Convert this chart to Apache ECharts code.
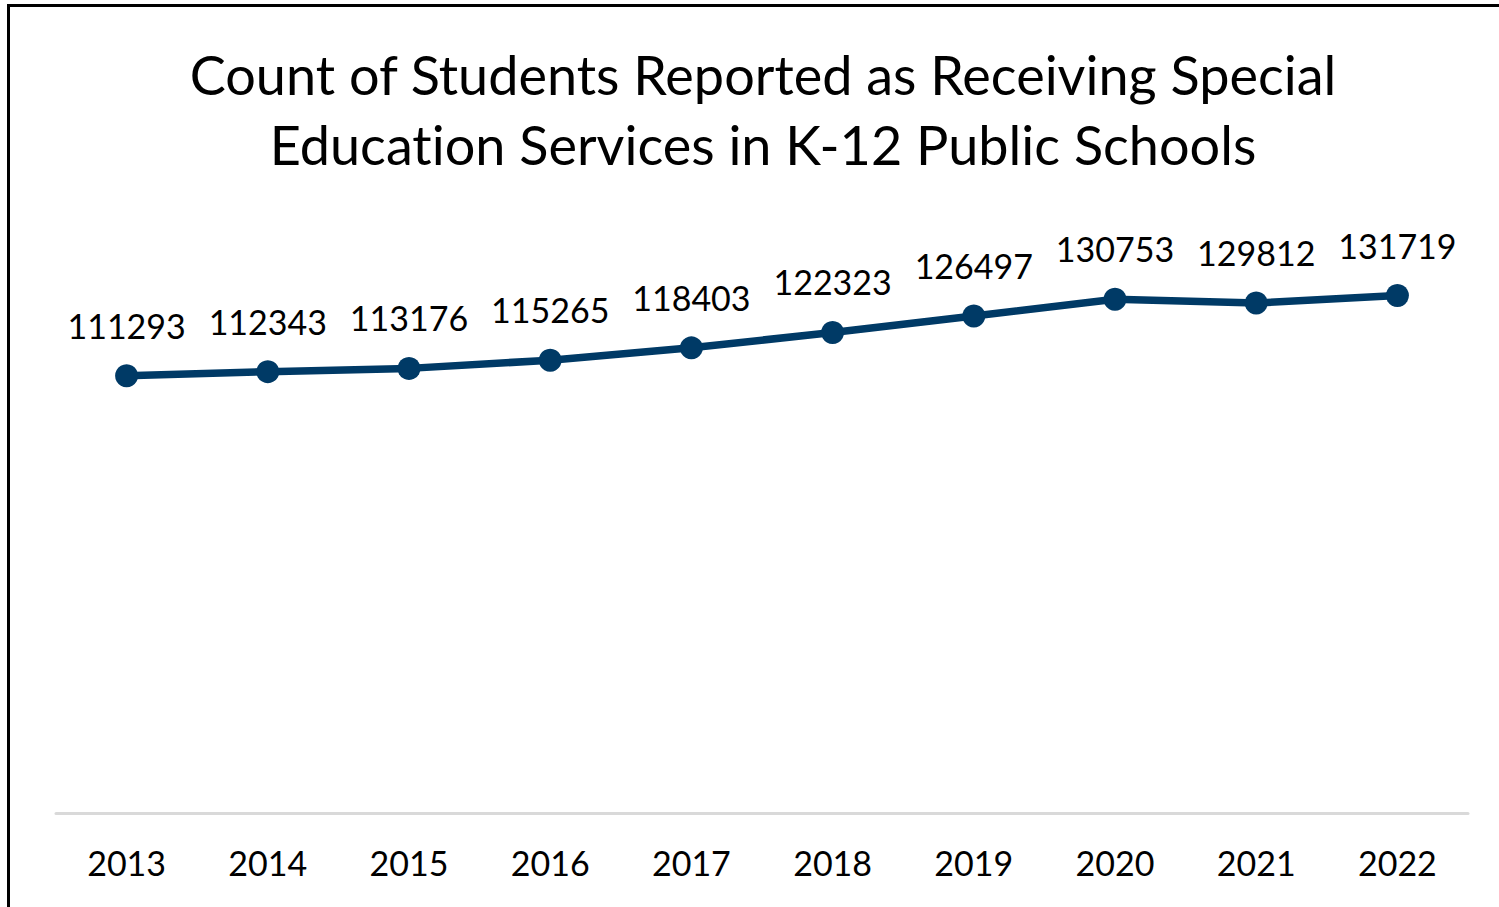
<!DOCTYPE html>
<html>
<head>
<meta charset="utf-8">
<script src="https://cdn.jsdelivr.net/npm/echarts@6/dist/echarts.min.js"></script>
<style>
html,body{margin:0;padding:0;background:#fff;}
#chart{width:1499px;height:907px;}
svg text{font-variant-ligatures:none;font-feature-settings:"liga" 0,"clig" 0;}
</style>
</head>
<body>
<div id="chart"></div>
<script>
const years = ['2013','2014','2015','2016','2017','2018','2019','2020','2021','2022'];
const students = [111293,112343,113176,115265,118403,122323,126497,130753,129812,131719];
const titleLines = ['Count of Students Reported as Receiving Special','Education Services in K-12 Public Schools'];

const FONT = 'Lato';
const chart = echarts.init(document.getElementById('chart'), null, {renderer:'svg'});
chart.setOption({
  backgroundColor:'#ffffff',
  animation:false,
  title:{
    text: titleLines.join('\n'),
    left: 758,
    top: 34,
    textAlign:'center',
    textStyle:{fontFamily:FONT,fontSize:54,fontWeight:'normal',color:'#000000',lineHeight:70}
  },
  grid:{left:56,right:31,top:263,bottom:94,containLabel:false},
  xAxis:{
    type:'category',
    data:years,
    boundaryGap:true,
    axisLine:{show:true,lineStyle:{color:'#d9d9d9',width:3}},
    axisTick:{show:false},
    axisLabel:{fontFamily:FONT,fontSize:34,color:'#000000',margin:32}
  },
  yAxis:{
    type:'value',
    min:0,max:140000,
    show:false,
    splitLine:{show:false}
  },
  series:[{
    type:'line',
    data:students,
    symbol:'circle',
    symbolSize:23,
    lineStyle:{color:'#003a66',width:7.5},
    itemStyle:{color:'#003a66'},
    label:{show:true,position:'top',distance:22,fontFamily:FONT,fontSize:34,color:'#000000'}
  }],
  graphic:[{
    type:'rect',
    shape:{x:8.5,y:5.5,width:3000,height:3000},
    style:{fill:'none',stroke:'#000000',lineWidth:3},
    silent:true
  }]
});
</script>
</body>
</html>
